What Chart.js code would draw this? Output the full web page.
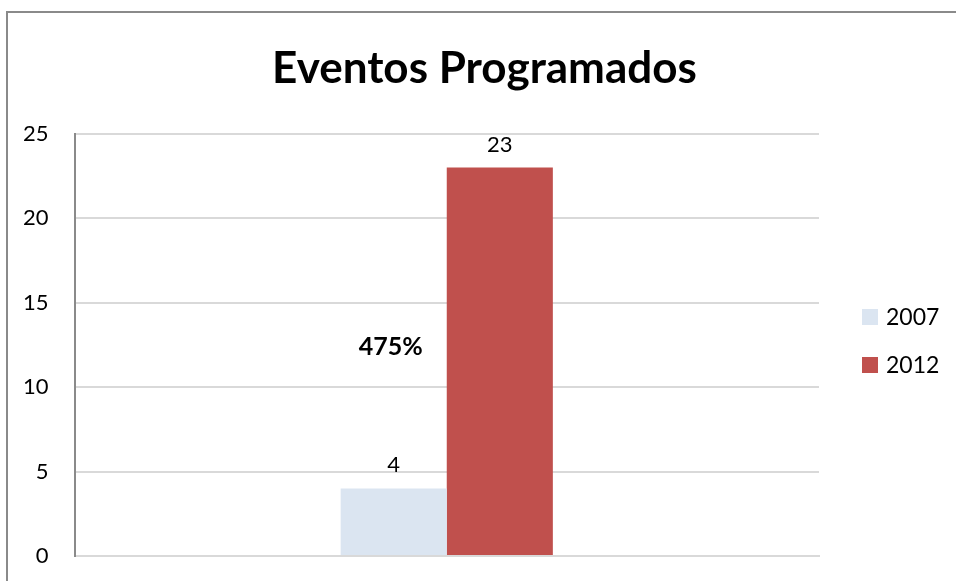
<!DOCTYPE html>
<html>
<head>
<meta charset="utf-8">
<script src="https://cdn.jsdelivr.net/npm/chart.js@4"></script>
<style>
  body { margin: 0; background: #fff; overflow: hidden; }
  #moldura { position: absolute; left: 6px; top: 11px; width: 1000px; height: 700px; border: 2px solid #8a8a8a; }
  #caixa { position: absolute; left: 0; top: 0; width: 956px; height: 581px; }
</style>
</head>
<body>
<div id="moldura"></div>
<div id="caixa"><canvas id="grafico"></canvas></div>
<script>
// Dados do gráfico
const categorias = [''];
const anos = ['2007', '2012'];
const eventos2007 = [4];
const eventos2012 = [23];
const ticksY = [0, 5, 10, 15, 20, 25];

const fonte = 'Lato, "Open Sans", sans-serif';

// Rótulos em cima das barras e o percentual de crescimento
const rotulosPlugin = {
    id: 'rotulos',
    afterDatasetsDraw(chart) {
        const ctx = chart.ctx;
        ctx.save();
        ctx.fillStyle = '#000';
        ctx.textAlign = 'center';
        ctx.textBaseline = 'alphabetic';
        ctx.font = '22px ' + fonte;
        chart.data.datasets.forEach((ds, i) => {
            chart.getDatasetMeta(i).data.forEach((bar, j) => {
                ctx.fillText(ds.data[j], bar.x, bar.y - 16);
            });
        });
        // percentual
        const a = eventos2007[0], b = eventos2012[0];
        const pct = Math.round((b - a) / a * 100) + '%';
        const barra = chart.getDatasetMeta(0).data[0];
        ctx.font = 'bold 25px ' + fonte;
        ctx.textBaseline = 'middle';
        ctx.fillText(pct, barra.x - 3, chart.scales.y.getPixelForValue(12.4));
        ctx.restore();
    }
};

// Legenda desenhada à mão, à direita
const legendaPlugin = {
    id: 'legenda',
    afterDraw(chart) {
        const ctx = chart.ctx;
        ctx.save();
        ctx.font = '23px ' + fonte;
        ctx.textBaseline = 'middle';
        ctx.textAlign = 'left';
        chart.data.datasets.forEach((ds, i) => {
            const y = 317 + i * 48;
            ctx.fillStyle = ds.backgroundColor;
            ctx.fillRect(862, y - 8, 16, 16);
            ctx.fillStyle = '#000';
            ctx.fillText(ds.label, 886, y + 1);
        });
        ctx.restore();
    }
};

const ctx = document.getElementById('grafico').getContext('2d');
new Chart(ctx, {
    type: 'bar',
    data: {
        labels: categorias,
        datasets: [
            { label: anos[0], data: eventos2007, backgroundColor: '#dbe5f1' },
            { label: anos[1], data: eventos2012, backgroundColor: '#c0504d' }
        ]
    },
    options: {
        responsive: true,
        maintainAspectRatio: false,
        animation: false,
        layout: { padding: { left: -3, right: -16, top: 0, bottom: 25 } },
        datasets: { bar: { categoryPercentage: 0.285, barPercentage: 1 } },
        plugins: {
            legend: { display: false },
            tooltip: { enabled: false },
            title: {
                display: true,
                text: 'Eventos Programados',
                color: '#000',
                font: { family: fonte, size: 44, weight: 'bold', lineHeight: 1.2 },
                padding: { top: 42, bottom: 39 }
            }
        },
        scales: {
            x: {
                ticks: { display: false },
                grid: { display: false },
                border: { color: '#d9d9d9', width: 2 },
                afterFit: (s) => { s.height = 0; }
            },
            y: {
                min: 0,
                max: 25,
                afterBuildTicks: (s) => { s.ticks = ticksY.map(v => ({ value: v })); },
                // sem folga extra em cima e embaixo
                afterFit: (s) => { s.paddingTop = 0; s.paddingBottom = 0; },
                ticks: { color: '#000', padding: 26, font: { family: fonte, size: 22 } },
                grid: { color: '#d9d9d9', lineWidth: 2, drawTicks: false },
                border: { color: '#8a8a8a', width: 2 }
            },
            // eixo vazio só para reservar o espaço da legenda
            lado: {
                position: 'right',
                min: 0,
                max: 25,
                ticks: { display: false },
                grid: { display: false },
                border: { display: false },
                afterFit: (s) => { s.width = 153; }
            }
        }
    },
    plugins: [rotulosPlugin, legendaPlugin]
});
</script>
</body>
</html>
